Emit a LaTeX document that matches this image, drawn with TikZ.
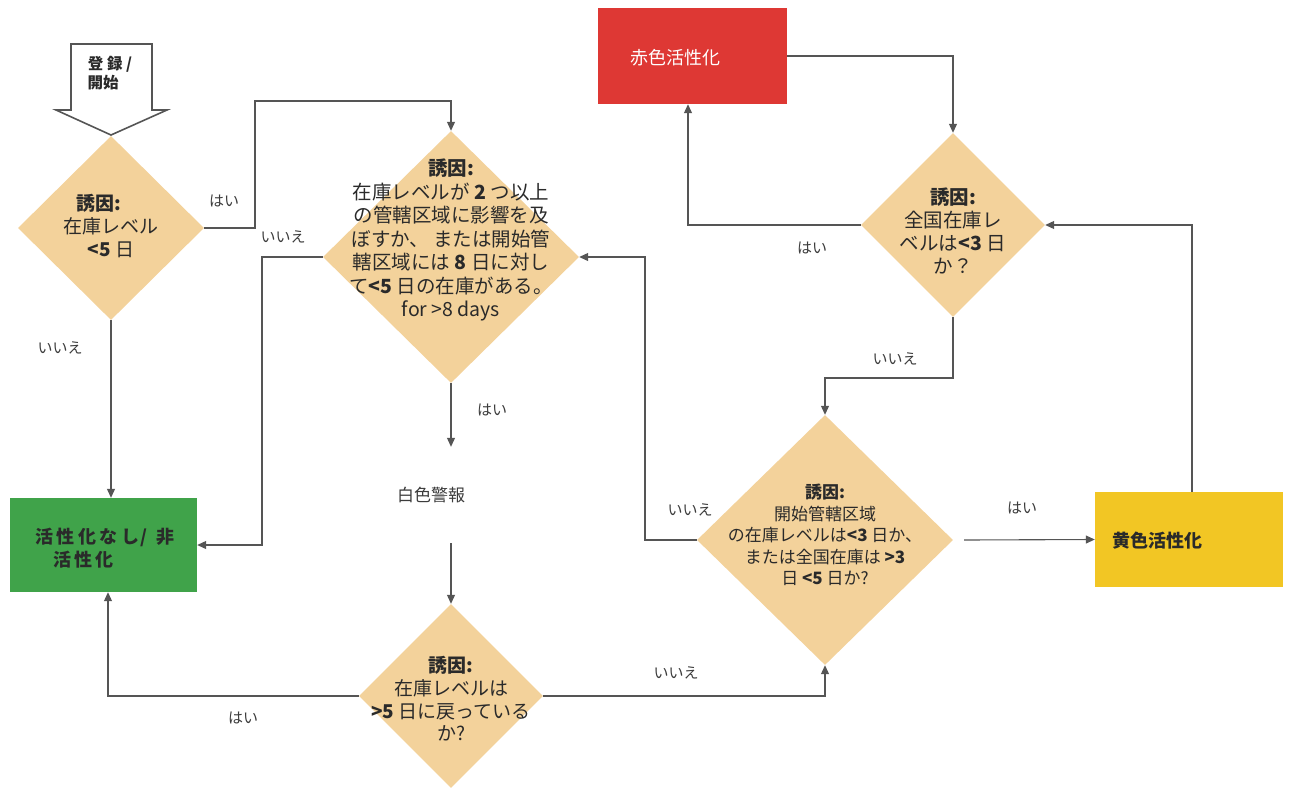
\documentclass[tikz,border=0pt]{standalone}
\usepackage{fontspec}
\setmainfont{Noto Sans CJK JP}
\usetikzlibrary{shapes.geometric,arrows.meta}
\definecolor{dfill}{HTML}{F3D29B}
\definecolor{redbox}{HTML}{DE3834}
\definecolor{greenbox}{HTML}{40A34A}
\definecolor{yellowbox}{HTML}{F2C624}
\definecolor{linec}{HTML}{555555}
\definecolor{labc}{HTML}{3C3C3C}
\definecolor{txtc}{HTML}{2A2A2A}
\tikzset{
  dia/.style={diamond, fill=dfill, draw=none, inner sep=0pt, aspect=1},
  dtext/.style={align=center, text=txtc, inner sep=0pt},
  boxn/.style={rectangle, draw=none, inner sep=0pt},
  lab/.style={text=labc, font=\fontsize{15}{17}\selectfont, inner sep=0pt},
  conn/.style={draw=linec, line width=1.1pt},
  arr/.style={conn, -{Triangle[length=9pt,width=8pt]}},
}
\begin{document}
\begin{tikzpicture}[x=1pt,y=-1pt]
\useasboundingbox (0,0) rectangle (1291,788);
% start block arrow
\draw[draw=linec, line width=1.6pt, fill=white, line join=miter]
  (71,44) -- (152,44) -- (152,110) -- (167,110) -- (111,135) -- (56,110) -- (71,110) -- cycle;
\coordinate (start) at (111,135);
\node[align=center, text=txtc, font=\bfseries\fontsize{15.5}{19}\selectfont, inner sep=0pt] (starttext) at (110,73) {登 録 /\\開始\hspace*{14pt}};

% diamonds
\node[dia, minimum width=186pt, minimum height=184pt] (d1) at (111,228) {};
\node[dia, minimum width=256pt, minimum height=252pt] (d2) at (451,257) {};
\node[dia, minimum width=184pt, minimum height=184pt] (d3) at (953,225) {};
\node[dia, minimum width=256pt, minimum height=250pt] (d4) at (825,540) {};
\node[dia, minimum width=184pt, minimum height=184pt] (d5) at (451,696) {};

\node[dtext, font=\fontsize{19}{23}\selectfont] (t1) at (111,226) {\textbf{誘因:}\hspace*{24pt}\\在庫レベル\\\textbf{<5} 日};
\node[dtext, font=\fontsize{19.5}{23.5}\selectfont] (t2) at (451,240) {\textbf{誘因:}\\在庫レベルが \textbf{2} つ以上\\の管轄区域に影響を及\\ぼすか、 または開始管\\轄区域には \textbf{8} 日に対し\\て\textbf{<5} 日の在庫がある。\\for >8 days};
\node[dtext, font=\fontsize{19.5}{23}\selectfont] (t3) at (953,231) {\textbf{誘因:}\\全国在庫レ\\ベルは\textbf{<3} 日\\か？};
\node[dtext, font=\fontsize{17}{21.5}\selectfont] (t4) at (825,535) {\textbf{誘因:}\\開始管轄区域\\の在庫レベルは\textbf{<3} 日か、\\または全国在庫は \textbf{>3}\\日 \textbf{<5} 日か?};
\node[dtext, font=\fontsize{19}{22.7}\selectfont] (t5) at (451,699) {\textbf{誘因:}\\在庫レベルは\\\textbf{>5} 日に戻っている\\か?};

% boxes
\node[boxn, fill=redbox, minimum width=189pt, minimum height=96pt] (red) at (692.5,56) {};
\node[anchor=west, text=white, font=\fontsize{18}{20}\selectfont, inner sep=0pt] (redt) at (630,58) {赤色活性化};
\node[boxn, fill=greenbox, minimum width=187pt, minimum height=94pt] (green) at (103.5,545) {};
\node[anchor=west, align=left, text=txtc, font=\bfseries\fontsize{18}{23}\selectfont, inner sep=0pt] (greent) at (35,548)
  {活\kern3.5pt 性\kern3.5pt 化\kern3.5pt な\kern3.5pt し\kern1pt /\kern9pt 非\\\hspace*{18pt}活\kern3pt 性\kern3pt 化};
\node[boxn, fill=yellowbox, minimum width=188pt, minimum height=95pt] (yellow) at (1189,539.5) {};
\node[anchor=west, text=txtc, font=\bfseries\fontsize{18}{20}\selectfont, inner sep=0pt] (yellowt) at (1112,541) {黄色活性化};
\node[boxn, fill=white, minimum width=170pt, minimum height=96pt, text=labc, font=\fontsize{17}{20}\selectfont] (white) at (451,495) {白色警報\hspace*{40pt}};

% connectors
\draw[arr] (d1.east) -- (255,228) |- (451,101) -- (d2.north);
\draw[arr] (d2.west) -- (262,257) |- (green.east);
\draw[arr] (d1.south) -- (d1.south |- green.north);
\draw[arr] (d2.south) -- (white.north);
\draw[arr] (white.south) -- (d5.north);
\draw[arr] (d5.west) -| ([xshift=4.5pt]green.south);
\draw[arr] (d5.east) -| (d4.south);
\draw[arr] (d4.west) -- (645,540) |- (d2.east);
\draw[arr] ([xshift=11pt]d4.east) -- (yellow.west);
\draw[arr] ([xshift=3pt]yellow.north) |- (d3.east);
\draw[arr] (d3.west) -| ([xshift=-4.5pt]red.south);
\draw[arr] (red.east) -| (d3.north);
\draw[arr] (d3.south) -- (953,378) -| (d4.north);

% labels
\node[lab] (l1) at (224,201) {はい};
\node[lab] (l2) at (283,237) {いいえ};
\node[lab] (l3) at (60,348) {いいえ};
\node[lab] (l4) at (492,410) {はい};
\node[lab] (l5) at (243,718) {はい};
\node[lab] (l6) at (676,673) {いいえ};
\node[lab] (l7) at (690,510) {いいえ};
\node[lab] (l8) at (1022,508) {はい};
\node[lab] (l9) at (812,248) {はい};
\node[lab] (l10) at (895,359) {いいえ};
\end{tikzpicture}
\end{document}
